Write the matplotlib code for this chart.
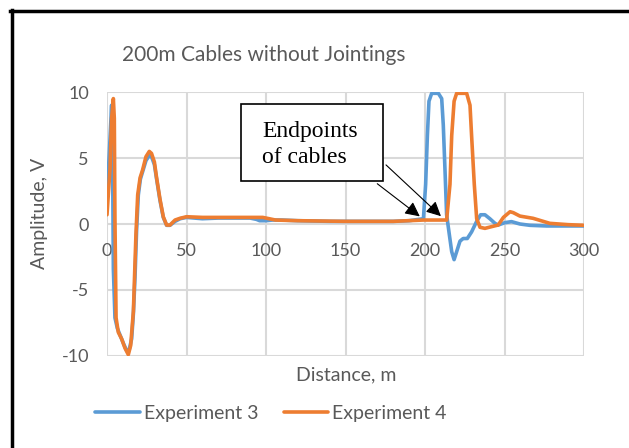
import matplotlib
matplotlib.use('Agg')
from matplotlib import pyplot as plt
from matplotlib.lines import Line2D
from matplotlib.patches import Rectangle

'''Data read off the reference'''
title = '200m Cables without Jointings'
series_names = ['Experiment 3', 'Experiment 4']

exp3_x = [0, 1.5, 2.9, 3.5, 4.0, 5.0, 6.5, 8.5, 10.5, 12.4, 14, 15.5, 16.6, 17.6, 18.6,
          19.7, 21, 22.5, 24.5, 26.6, 28, 29.8, 31.2, 33.3, 35.4, 37.5, 39.6, 42.8, 46,
          50, 55, 60, 70, 80, 90, 94, 96, 100, 104, 110, 120, 140, 160, 180, 190, 199,
          200.4, 201.5, 202.5, 204.2, 208.4, 210.5, 211.5, 212.6, 213.6, 215.3, 216.8,
          218.3, 219.9, 222, 224, 226.6, 229.3, 232.5, 235, 237.7, 240.8, 244, 246,
          250.2, 254.4, 259.7, 266, 276.5, 300]
exp3_y = [2.0, 5.5, 9.0, 5.0, -3.4, -7.1, -7.9, -8.5, -9.1, -9.6, -9.5, -8.7, -6.8, -4.1, -0.5,
          2.2, 3.4, 4.0, 4.8, 5.2, 5.1, 4.5, 3.4, 1.8, 0.5, -0.1, -0.1, 0.2, 0.4,
          0.5, 0.45, 0.4, 0.45, 0.45, 0.45, 0.35, 0.25, 0.25, 0.3, 0.3, 0.25, 0.2, 0.2, 0.2, 0.25, 0.4,
          3.0, 6.7, 9.3, 9.9, 9.9, 9.5, 7.5, 4.0, 0.7, -0.8, -2.1,
          -2.7, -2.1, -1.3, -1.1, -1.1, -0.6, 0.2, 0.7, 0.7, 0.4, 0.05, -0.08,
          0.1, 0.18, 0.0, -0.1, -0.15, -0.15]

exp4_x = [0, 1.9, 2.9, 4.0, 4.6, 5.0, 5.7, 7.1, 9.2, 11.3, 13.4, 14.9, 16.6, 18.2, 19.3,
          20.8, 22.4, 24.5, 26.6, 28, 29.8, 31.2, 33.3, 35.4, 37.5, 39.6, 42.8, 45.9,
          50, 60, 80, 98, 106, 120, 150, 180, 199, 211, 213.6, 215.7, 216.8, 218.3,
          219.9, 226.2, 228.3, 229.3, 231, 232.5, 234.6, 237.7, 241.9, 246, 249.3,
          253.5, 255.5, 259.7, 268, 278.5, 290, 300]
exp4_y = [0.7, 4.2, 8.0, 9.5, 8.0, 0.4, -7.1, -8.2, -8.7, -9.4, -9.9, -9.2, -6.6, -0.8, 2.2,
          3.5, 4.1, 5.1, 5.5, 5.35, 4.7, 3.5, 1.9, 0.55, -0.08, -0.08, 0.3, 0.43,
          0.55, 0.5, 0.5, 0.5, 0.3, 0.25, 0.2, 0.2, 0.3, 0.3, 0.3, 3.0, 6.7, 9.3,
          9.9, 9.9, 9.0, 6.7, 3.0, 0.4, -0.25, -0.33, -0.2, -0.08, 0.5,
          0.93, 0.86, 0.6, 0.43, 0.05, -0.05, -0.1]

x_ticks = [0, 50, 100, 150, 200, 250, 300]
y_ticks = [-10, -5, 0, 5, 10]

blue = '#5B9BD5'
orange = '#ED7D31'
grey = '#595959'
grid = '#D9D9D9'

plt.rcParams['font.family'] = ['Lato', 'DejaVu Sans']
plt.rcParams['axes.unicode_minus'] = False

W, H = 629, 448
fig = plt.figure(figsize=(W / 100, H / 100), dpi=100)
ax = fig.add_axes([107 / W, 1 - 356 / H, 477 / W, 264 / H])

ax.plot(exp3_x, exp3_y, color=blue, lw=2.6, label=series_names[0],
        solid_joinstyle='round', solid_capstyle='round')
ax.plot(exp4_x, exp4_y, color=orange, lw=2.6, label=series_names[1],
        solid_joinstyle='round', solid_capstyle='round')

ax.set_xlim(0, 300)
ax.set_ylim(-10, 10)
ax.set_xticks(x_ticks)
ax.set_yticks(y_ticks)
ax.grid(True, color=grid, lw=1.5)
ax.set_axisbelow(True)
for s in ['top', 'right', 'left']:
    ax.spines[s].set_visible(False)
ax.spines['bottom'].set_position(('data', 0))
ax.spines['bottom'].set_color('none')
ax.tick_params(axis='both', length=0, labelcolor=grey, labelsize=13)
ax.tick_params(axis='x', pad=14)
ax.tick_params(axis='y', pad=13)

fig.text(346 / W, 1 - 375 / H, 'Distance, m', ha='center', va='center', color=grey, fontsize=14)
fig.text(39 / W, 1 - 213 / H, 'Amplitude, V', ha='center', va='center', rotation=90,
         color=grey, fontsize=14)
fig.text(264 / W, 1 - 55 / H, title, ha='center', va='center', color=grey, fontsize=15)

# callout box + arrows
ax.add_patch(Rectangle((84.3, 3.26), 89.3, 5.83, facecolor='white', edgecolor='black',
                       lw=1.2, clip_on=False, zorder=5))
ax.text(97.5, 6.59, 'Endpoints', family='Liberation Serif', fontsize=17,
        va='baseline', ha='left', zorder=6)
ax.text(97.5, 4.62, 'of cables', family='Liberation Serif', fontsize=17,
        va='baseline', ha='left', zorder=6)
for sx, sy, ex, ey in [(168.6, 3.18, 198.1, 0.45), (174.2, 4.62, 211.3, 0.45)]:
    ax.annotate('', xy=(ex, ey), xytext=(sx, sy),
                arrowprops=dict(arrowstyle='-|>', color='black', lw=0.8, mutation_scale=22),
                zorder=6)

leg = fig.legend(loc='center', bbox_to_anchor=(271 / W, 1 - 413 / H), ncol=2, frameon=False,
                 fontsize=14, handlelength=2.3, columnspacing=1.3, handletextpad=0.2)
for t in leg.get_texts():
    t.set_color(grey)

# black frame lines on left and top
fig.add_artist(Line2D([11.5 / W, 11.5 / W], [0, 1 - 10 / H], color='black', lw=2.5,
                      transform=fig.transFigure))
fig.add_artist(Line2D([10 / W, 1], [1 - 11 / H, 1 - 11 / H], color='black', lw=2.5,
                      transform=fig.transFigure))

fig.savefig('out.png', dpi=100)
